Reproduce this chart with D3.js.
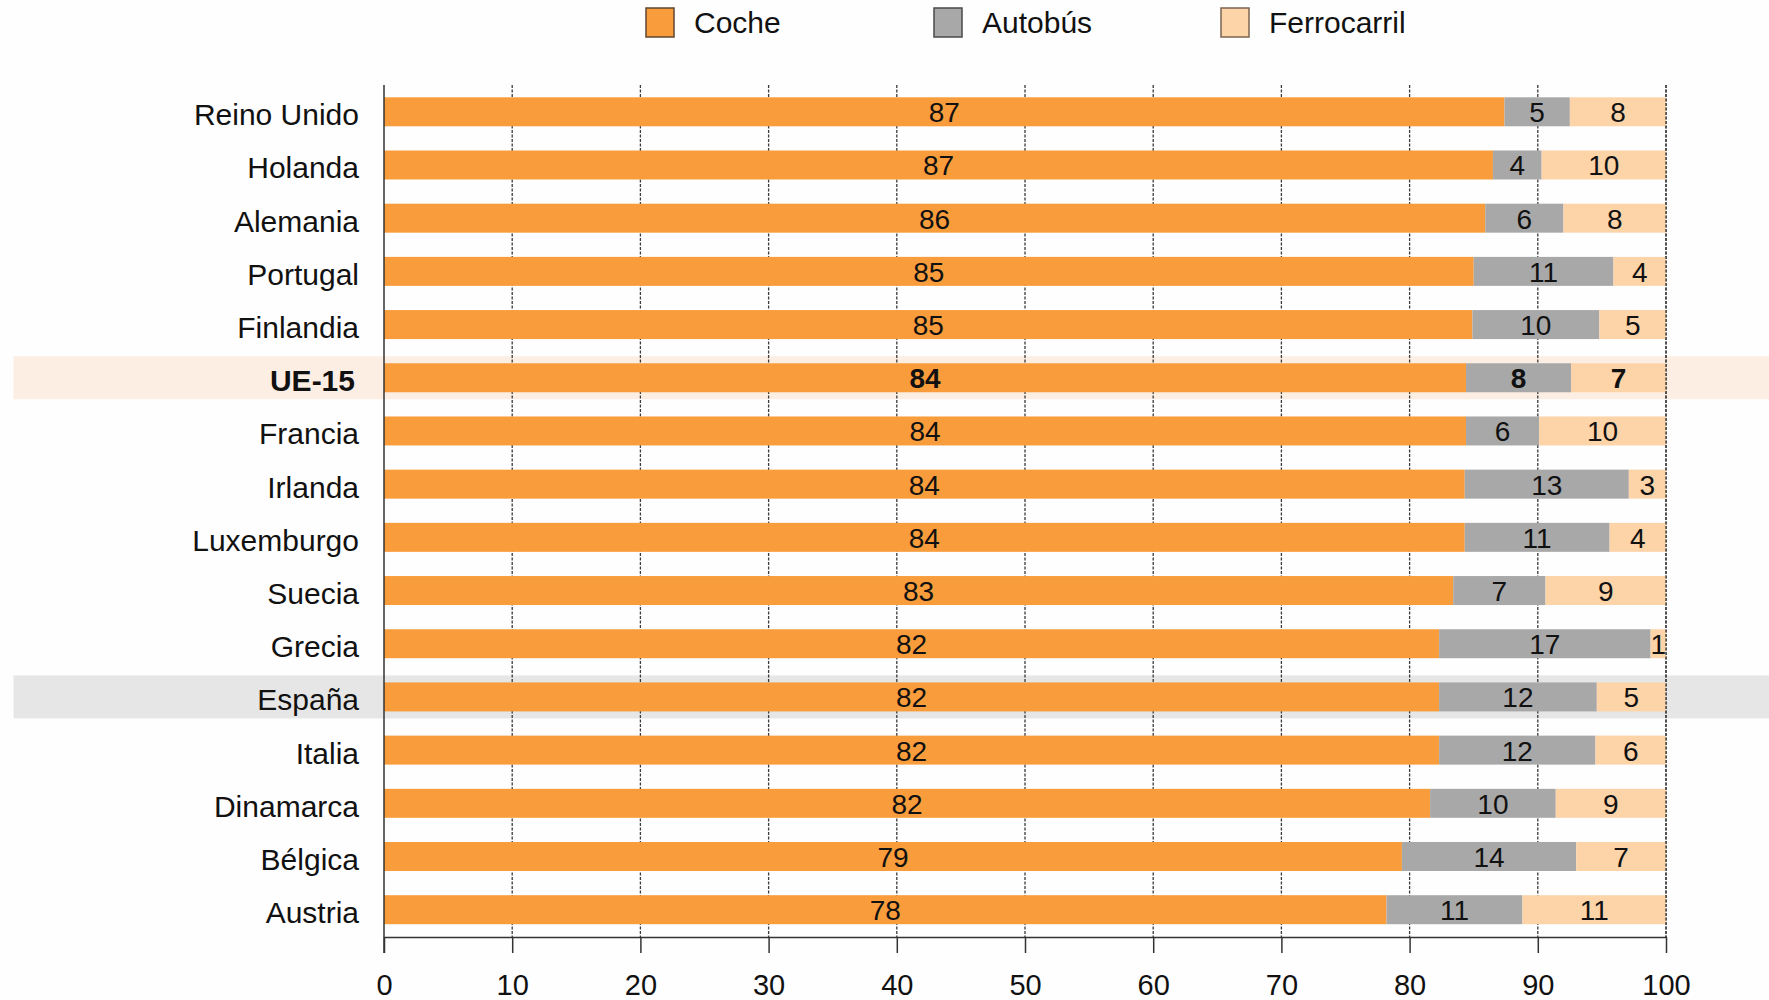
<!DOCTYPE html>
<html>
<head>
<meta charset="utf-8">
<script src="https://cdn.jsdelivr.net/npm/d3@7"></script>
<style>
  html, body { margin: 0; padding: 0; background: #fefefe; }
  svg { display: block; font-family: "Liberation Sans", Arial, sans-serif; }
</style>
</head>
<body>
<svg id="chart" width="1769" height="1000"></svg>
<script>
const categories = ["Reino Unido","Holanda","Alemania","Portugal","Finlandia","UE-15","Francia","Irlanda","Luxemburgo","Suecia","Grecia","España","Italia","Dinamarca","Bélgica","Austria"];
const coche      = [87.4, 86.5, 85.9, 85.0, 84.9, 84.4, 84.4, 84.3, 84.3, 83.4, 82.3, 82.3, 82.3, 81.6, 79.4, 78.2];
const autobus    = [5.1, 3.8, 6.1, 10.9, 9.9, 8.2, 5.7, 12.8, 11.3, 7.2, 16.5, 12.3, 12.2, 9.8, 13.6, 10.6];
const ferrocarril= [7.5, 9.7, 8.0, 4.1, 5.2, 7.4, 9.9, 2.9, 4.4, 9.4, 1.2, 5.4, 5.5, 8.6, 7.0, 11.2];
const seriesNames = ["Coche","Autobús","Ferrocarril"];
const xTicks = [0,10,20,30,40,50,60,70,80,90,100];
const highlightEU = "UE-15";
const highlightES = "España";

const colors = {"Coche":"#f99c3b","Autobús":"#a8a8a8","Ferrocarril":"#fdd3a8"};
const legendStroke = {"Coche":"#5e4630","Autobús":"#4a4a4a","Ferrocarril":"#7a6450"};

const svg = d3.select("#chart");
const W = 1769, H = 1000;
const x0 = 384, x1 = 1666;
const plotTop = 85, axisY = 937;

const x = d3.scaleLinear().domain([0,100]).range([x0,x1]);
const y = d3.scaleBand().domain(categories).range([84, 937.5]).paddingInner(0.455).paddingOuter(0.25);

const rows = categories.map((c,i)=>({cat:c, vals:[coche[i],autobus[i],ferrocarril[i]]}));
const stack = d3.stack().keys([0,1,2]).value((d,k)=>d.vals[k]);
const stacked = stack(rows);

// highlight bands
const bandH = 43;
[[highlightEU,"#fdeee3"],[highlightES,"#e6e6e6"]].forEach(([c,col])=>{
  svg.append("rect")
    .attr("x",13.5).attr("width",W-13.5)
    .attr("y", y(c)+y.bandwidth()/2 - bandH/2).attr("height",bandH)
    .attr("fill",col);
});

// gridlines
svg.append("g").selectAll("line").data(xTicks.filter(t=>t>0)).join("line")
  .attr("x1",d=>x(d)).attr("x2",d=>x(d))
  .attr("y1",plotTop).attr("y2",axisY)
  .attr("stroke","#3a3a3a").attr("stroke-width",1.3)
  .attr("stroke-dasharray","3,1.5");

// bars
const g = svg.append("g");
stacked.forEach((layer,k)=>{
  g.append("g").selectAll("rect").data(layer).join("rect")
    .attr("x",d=>x(d[0]))
    .attr("width",d=>x(d[1])-x(d[0]))
    .attr("y",d=>y(d.data.cat))
    .attr("height",y.bandwidth())
    .attr("fill",colors[seriesNames[k]]);
});

// gridline at 100 on top
svg.append("line").attr("x1",x(100)).attr("x2",x(100)).attr("y1",plotTop).attr("y2",axisY)
  .attr("stroke","#3a3a3a").attr("stroke-width",1.3).attr("stroke-dasharray","3,1.5");

// value labels
stacked.forEach((layer,k)=>{
  g.append("g").selectAll("text").data(layer).join("text")
    .attr("x",d=>(x(d[0])+x(d[1]))/2)
    .attr("y",d=>y(d.data.cat)+y.bandwidth()/2+1)
    .attr("text-anchor","middle")
    .attr("dominant-baseline","central")
    .attr("font-size",28)
    .attr("font-weight",d=>d.data.cat===highlightEU?"bold":"normal")
    .attr("fill","#111")
    .text(d=>Math.round(d.data.vals[k]));
});

// category labels
svg.append("g").selectAll("text").data(categories).join("text")
  .attr("x",d=>d===highlightEU?355:359)
  .attr("y",d=>y(d)+y.bandwidth()/2+3)
  .attr("text-anchor","end")
  .attr("dominant-baseline","central")
  .attr("font-size",30)
  .attr("font-weight",d=>d===highlightEU?"bold":"normal")
  .attr("fill","#111")
  .text(d=>d);

// left axis line
svg.append("line").attr("x1",x0).attr("x2",x0).attr("y1",plotTop).attr("y2",953)
  .attr("stroke","#333").attr("stroke-width",1.5);

// bottom axis
const xAxis = d3.axisBottom(x).tickValues(xTicks).tickSize(16).tickPadding(21).tickSizeOuter(0);
const ax = svg.append("g").attr("transform",`translate(0,${axisY})`).call(xAxis);
ax.select(".domain").attr("stroke","#333").attr("stroke-width",1.5);
ax.selectAll(".tick line").attr("stroke","#333").attr("stroke-width",1.5);
ax.selectAll(".tick text").attr("font-size",29).attr("fill","#111")
  .attr("font-family","Liberation Sans, Arial, sans-serif");

// legend
const legendX = [646, 934, 1221];
const lg = svg.append("g");
seriesNames.forEach((s,i)=>{
  lg.append("rect").attr("x",legendX[i]).attr("y",8).attr("width",28).attr("height",29)
    .attr("fill",colors[s]).attr("stroke",legendStroke[s]).attr("stroke-width",1.5);
  lg.append("text").attr("x",legendX[i]+48).attr("y",22)
    .attr("dominant-baseline","central").attr("font-size",30).attr("fill","#111").text(s);
});
</script>
</body>
</html>
